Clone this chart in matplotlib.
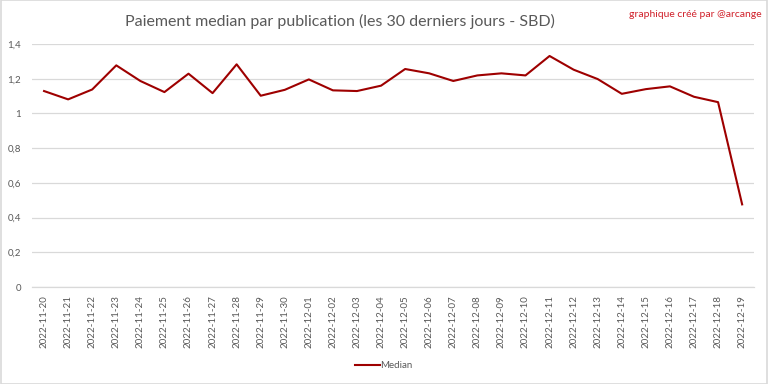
import matplotlib.pyplot as plt
from matplotlib.patches import Rectangle

plt.rcParams.update({
    "font.family": ["Lato", "DejaVu Sans"],
    "figure.facecolor": "white",
    "axes.facecolor": "white",
})

# data
dates = ["2022-11-20", "2022-11-21", "2022-11-22", "2022-11-23", "2022-11-24",
         "2022-11-25", "2022-11-26", "2022-11-27", "2022-11-28", "2022-11-29",
         "2022-11-30", "2022-12-01", "2022-12-02", "2022-12-03", "2022-12-04",
         "2022-12-05", "2022-12-06", "2022-12-07", "2022-12-08", "2022-12-09",
         "2022-12-10", "2022-12-11", "2022-12-12", "2022-12-13", "2022-12-14",
         "2022-12-15", "2022-12-16", "2022-12-17", "2022-12-18", "2022-12-19"]
median = [1.129, 1.081, 1.138, 1.277, 1.187, 1.123, 1.229, 1.117, 1.283, 1.102,
          1.136, 1.196, 1.133, 1.129, 1.160, 1.256, 1.231, 1.187, 1.219, 1.231,
          1.219, 1.331, 1.252, 1.198, 1.113, 1.140, 1.156, 1.096, 1.065, 0.476]
y_ticks = [0, 0.2, 0.4, 0.6, 0.8, 1.0, 1.2, 1.4]
y_labels = ["0", "0,2", "0,4", "0,6", "0,8", "1", "1,2", "1,4"]

line_color = "#9e0000"
text_gray = "#595959"

fig = plt.figure(figsize=(7.68, 3.84), dpi=100)
ax = fig.add_axes([0.0417, 0.2526, 0.9403, 0.6328])

x = list(range(len(dates)))
ax.plot(x, median, color=line_color, linewidth=1.5, label="Median")

ax.set_xlim(-0.5, len(dates) - 0.5)
ax.set_ylim(0, 1.4)
ax.set_yticks(y_ticks)
ax.set_yticklabels(y_labels)
ax.set_xticks(x)
ax.set_xticklabels(dates, rotation=90)
ax.tick_params(axis="both", length=0, labelsize=7, colors=text_gray)
ax.tick_params(axis="y", pad=8)
ax.tick_params(axis="x", pad=6)

ax.grid(axis="y", color="#d9d9d9", linewidth=0.9)
ax.set_axisbelow(True)
for s in ["top", "right", "left"]:
    ax.spines[s].set_visible(False)
ax.spines["bottom"].set_color("#d9d9d9")
ax.spines["bottom"].set_linewidth(0.9)

fig.text(0.443, 0.945, "Paiement median par publication (les 30 derniers jours - SBD)",
         ha="center", va="center", fontsize=11.5, color=text_gray)
fig.text(0.992, 0.963, "graphique créé par @arcange", ha="right", va="center",
         fontsize=7.5, color="#d0202a")

ax.legend(loc="center", bbox_to_anchor=(0.5, 0.048), bbox_transform=fig.transFigure,
          frameon=False, fontsize=7, labelcolor=text_gray, handlelength=2.5,
          handletextpad=0.1)

# light chart border like the original
fig.patches.append(Rectangle((0.001, 0.001), 0.998, 0.998, transform=fig.transFigure,
                             fill=False, edgecolor="#d9d9d9", linewidth=1.2))

fig.savefig("out.png", dpi=100)
